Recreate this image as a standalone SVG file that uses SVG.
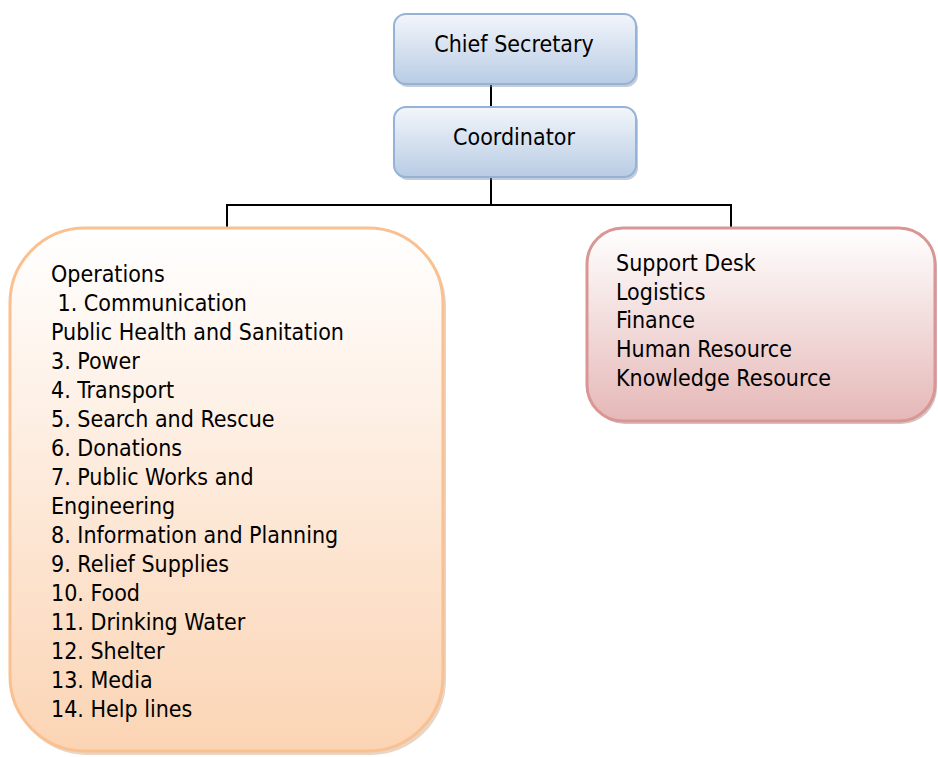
<svg xmlns="http://www.w3.org/2000/svg" width="938" height="757" viewBox="0 0 938 757">
<defs>
<linearGradient id="gBlue" x1="0" y1="0" x2="0" y2="1"><stop offset="0" stop-color="#f3f6fb"/><stop offset="1" stop-color="#b8cce4"/></linearGradient>
<linearGradient id="gPeach" x1="0" y1="0" x2="0" y2="1"><stop offset="0" stop-color="#ffffff"/><stop offset="1" stop-color="#fbd4b4"/></linearGradient>
<linearGradient id="gRose" x1="0" y1="0" x2="0" y2="1"><stop offset="0" stop-color="#ffffff"/><stop offset="1" stop-color="#e5b8b7"/></linearGradient>
</defs>
<style>
text{font-family:"DejaVu Sans Condensed","DejaVu Sans",Verdana,sans-serif;font-stretch:condensed;font-size:23px;fill:#000}
.c{text-anchor:middle}
.conn{stroke:#000;stroke-width:2;fill:none}
.sh{opacity:0.45}
</style>
<rect width="938" height="757" fill="#fff"/>
<g id="connectors">
<line class="conn" x1="491" y1="84" x2="491" y2="107"/>
<line class="conn" x1="491" y1="178" x2="491" y2="205"/>
<polyline class="conn" points="227,235 227,205 731,205 731,235"/>
</g>
<g id="chief-secretary">
<rect x="396" y="17" width="242" height="70" rx="12" fill="#7f8fa6" class="sh"/>
<rect x="394" y="14" width="242" height="70" rx="12" fill="url(#gBlue)" stroke="#95b3d7" stroke-width="2"/>
<text class="c" x="514" y="52">Chief Secretary</text>
</g>
<g id="coordinator">
<rect x="396" y="110" width="242" height="70" rx="12" fill="#7f8fa6" class="sh"/>
<rect x="394" y="107" width="242" height="70" rx="12" fill="url(#gBlue)" stroke="#95b3d7" stroke-width="2"/>
<text class="c" x="514" y="145">Coordinator</text>
</g>
<g id="operations">
<rect x="12" y="231" width="434" height="524" rx="75" fill="#c9a17f" class="sh"/>
<rect x="10" y="228" width="433" height="523" rx="75" fill="url(#gPeach)" stroke="#fac08f" stroke-width="3"/>
<text x="51" y="282">Operations</text>
<text x="51" y="311" xml:space="preserve"> 1. Communication</text>
<text x="51" y="340">Public Health and Sanitation</text>
<text x="51" y="369">3. Power</text>
<text x="51" y="398">4. Transport</text>
<text x="51" y="427">5. Search and Rescue</text>
<text x="51" y="456">6. Donations</text>
<text x="51" y="485">7. Public Works and</text>
<text x="51" y="514">Engineering</text>
<text x="51" y="543">8. Information and Planning</text>
<text x="51" y="572">9. Relief Supplies</text>
<text x="51" y="601">10. Food</text>
<text x="51" y="630">11. Drinking Water</text>
<text x="51" y="659">12. Shelter</text>
<text x="51" y="688">13. Media</text>
<text x="51" y="717">14. Help lines</text>
</g>
<g id="support">
<rect x="589" y="231" width="348" height="193" rx="36" fill="#a07a7a" class="sh"/>
<rect x="587" y="228" width="348" height="193" rx="36" fill="url(#gRose)" stroke="#d99694" stroke-width="3"/>
<text x="616" y="271">Support Desk</text>
<text x="616" y="300">Logistics</text>
<text x="616" y="328">Finance</text>
<text x="616" y="357">Human Resource</text>
<text x="616" y="386">Knowledge Resource</text>
</g>
</svg>
